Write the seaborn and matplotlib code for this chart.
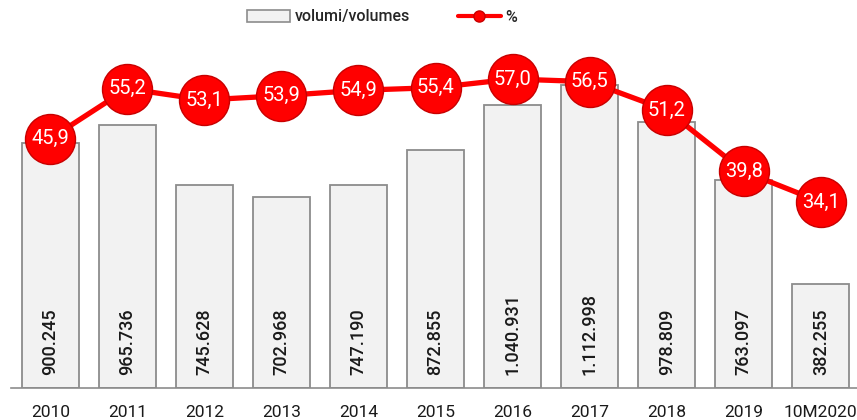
import numpy as np
import pandas as pd
import matplotlib
matplotlib.use("Agg")
import matplotlib.pyplot as plt
from matplotlib.patches import Rectangle
from matplotlib.lines import Line2D
import seaborn as sns

categories = ["2010", "2011", "2012", "2013", "2014", "2015", "2016", "2017", "2018", "2019", "10M2020"]
volumes = [900245, 965736, 745628, 702968, 747190, 872855, 1040931, 1112998, 978809, 763097, 382255]
percent = [45.9, 55.2, 53.1, 53.9, 54.9, 55.4, 57.0, 56.5, 51.2, 39.8, 34.1]
bar_label = "volumi/volumes"
line_label = "%"

sns.set_theme(style="white")
plt.rcParams["font.family"] = ["Roboto", "DejaVu Sans"]

df = pd.DataFrame({"cat": categories, "vol": volumes, "pct": percent,
                   "pos": np.arange(len(categories))})

fig = plt.figure(figsize=(8.57, 4.2), dpi=100)
ax = fig.add_axes([11 / 857, 32 / 420, 846 / 857, 363 / 420])

sns.barplot(data=df, x="cat", y="vol", ax=ax, color="#f2f2f2", width=0.74,
            edgecolor="#8c8c8c", linewidth=1.3, saturation=1)
ax.set_ylim(0, 1334000)
ax.set_xlim(-0.51, 10.47)
ax.set_xlabel("")
ax.set_ylabel("")
ax.set_yticks([])
for s in ["top", "right", "left"]:
    ax.spines[s].set_visible(False)
ax.spines["bottom"].set_color("#8c8c8c")
ax.spines["bottom"].set_linewidth(1.2)
ax.tick_params(axis="x", length=0, pad=12, labelsize=12.5, labelcolor="#1a1a1a")

for i, v in enumerate(volumes):
    txt = f"{v:,}".replace(",", ".")
    ax.text(i, 48000, txt, rotation=90, ha="center", va="bottom",
            fontsize=13, color="#1a1a1a", fontweight="medium")

ax2 = ax.twinx()
sns.lineplot(data=df, x="pos", y="pct", ax=ax2, color="#ff0000", linewidth=3.8,
             marker="o", markersize=36, markerfacecolor="#ff0000",
             markeredgecolor="#c80000", markeredgewidth=1.0)
ax2.set_ylim(-0.54, 67.06)
ax2.set_xlim(-0.51, 10.47)
ax2.set_yticks([])
ax2.set_ylabel("")
ax2.set_xlabel("")
for s in ["top", "right", "left", "bottom"]:
    ax2.spines[s].set_visible(False)

for i, p in enumerate(percent):
    ax2.text(i, p, f"{p:.1f}".replace(".", ","), ha="center", va="center",
             fontsize=14.5, color="white")

handles = [Rectangle((0, 0), 1, 1, facecolor="#f2f2f2", edgecolor="#8c8c8c", linewidth=1.2),
           Line2D([0], [0], color="#ff0000", linewidth=3, marker="o", markersize=8,
                  markerfacecolor="#ff0000", markeredgecolor="#c80000")]
fig.legend(handles, [bar_label, line_label], loc="center", bbox_to_anchor=(382 / 857, 1 - 17 / 420),
           ncol=2, frameon=False, handlelength=2.7, handleheight=0.7,
           columnspacing=3.0, handletextpad=0.3,
           prop={"size": 11.5, "weight": "medium"})

fig.savefig("out.png", dpi=100)
